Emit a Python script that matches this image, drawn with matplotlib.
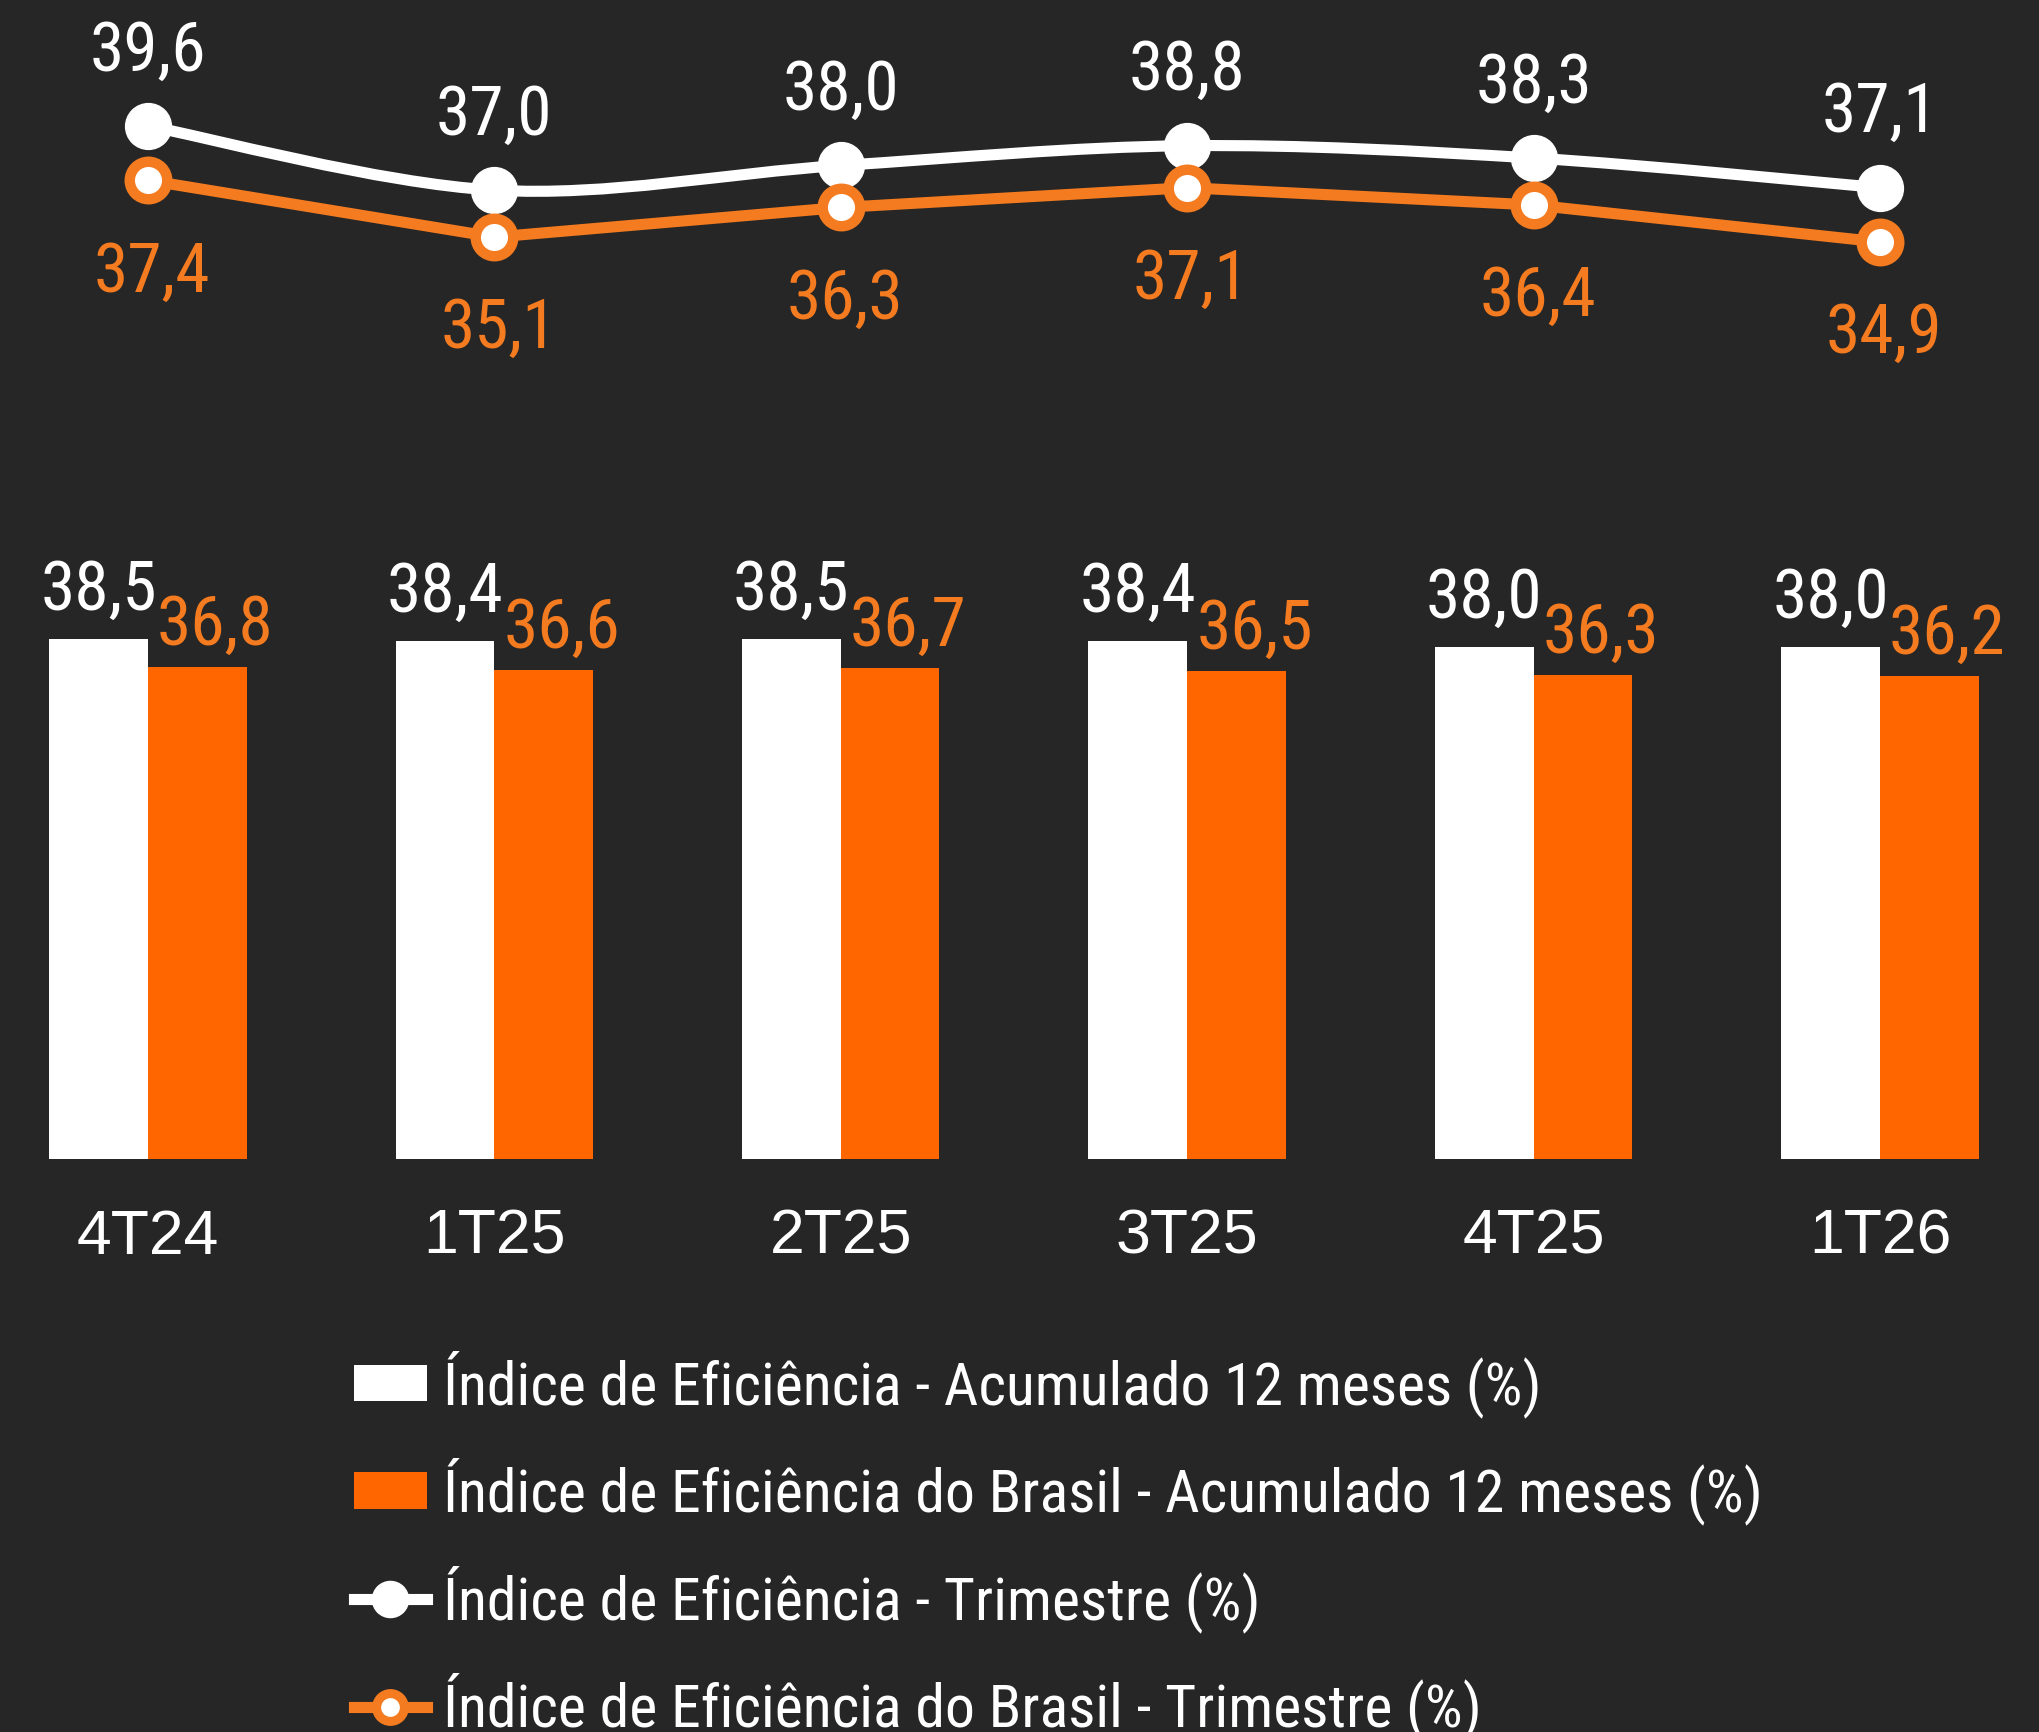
import matplotlib.pyplot as plt
from matplotlib import font_manager
from matplotlib.patches import Patch, PathPatch
from matplotlib.lines import Line2D
from matplotlib.path import Path

# quarters and series (%)
quarters = ["4T24", "1T25", "2T25", "3T25", "4T25", "1T26"]
acum_12m = [38.5, 38.4, 38.5, 38.4, 38.0, 38.0]
acum_12m_brasil = [36.8, 36.6, 36.7, 36.5, 36.3, 36.2]
trimestre = [39.6, 37.0, 38.0, 38.8, 38.3, 37.1]
trimestre_brasil = [37.4, 35.1, 36.3, 37.1, 36.4, 34.9]

BG = "#262626"
WHITE = "#ffffff"
ORANGE_BAR = "#ff6600"
ORANGE_LINE = "#f47b20"

# prefer a condensed face for the labels if one is around
installed = {f.name for f in font_manager.fontManager.ttflist}
condensed = [n for n in ("Roboto Condensed", "Liberation Sans Narrow", "Open Sans Condensed")
             if n in installed]
NARROW = condensed[:1] + ["Liberation Sans", "DejaVu Sans"]
REGULAR = ["Liberation Sans", "DejaVu Sans"]
shrink = 1.0 if condensed else 0.85


def fmt(v):
    return f"{v:.1f}".replace(".", ",")


x = list(range(len(quarters)))
xlim = (-0.427, 5.459)
w = 0.285

fig = plt.figure(figsize=(20.39, 17.32), dpi=100, facecolor=BG)

# --- bars: 12-month accumulated ---
ax = fig.add_axes([0, 0.3308, 1, 0.3459])
ax.set_facecolor(BG)
ax.bar([i - w / 2 for i in x], acum_12m, width=w, color=WHITE)
ax.bar([i + w / 2 for i in x], acum_12m_brasil, width=w, color=ORANGE_BAR)
ax.set_xlim(*xlim)
ax.set_ylim(6.5, 43.36)
for i in x:
    ax.annotate(fmt(acum_12m[i]), (i - w / 2, acum_12m[i]),
                xytext=(0, 21), textcoords="offset points", ha="center", va="baseline",
                color=WHITE, fontsize=50 * shrink, family=NARROW)
    ax.annotate(fmt(acum_12m_brasil[i]), (i + w / 2, acum_12m_brasil[i]),
                xytext=(13, 16), textcoords="offset points", ha="center", va="baseline",
                color=ORANGE_LINE, fontsize=50 * shrink, family=NARROW)
ax.set_xticks(x)
ax.set_xticklabels(quarters, color=WHITE, fontsize=45, family=REGULAR)
ax.tick_params(axis="x", length=0, pad=35)
ax.set_yticks([])
for s in ax.spines.values():
    s.set_visible(False)

# --- lines: quarterly ---
lx = fig.add_axes([0, 0.769, 1, 0.231])
lx.set_facecolor("none")
lx.set_xlim(*xlim)
lx.set_ylim(28.5, 44.7)
lx.axis("off")

# white series drawn as a smoothed curve (Catmull-Rom -> Bezier)
pts = list(zip(x, trimestre))
verts = [pts[0]]
codes = [Path.MOVETO]
for k in range(len(pts) - 1):
    p0 = pts[k - 1] if k > 0 else pts[k]
    p1, p2 = pts[k], pts[k + 1]
    p3 = pts[k + 2] if k + 2 < len(pts) else pts[k + 1]
    c1 = (p1[0] + (p2[0] - p0[0]) / 6, p1[1] + (p2[1] - p0[1]) / 6)
    c2 = (p2[0] - (p3[0] - p1[0]) / 6, p2[1] - (p3[1] - p1[1]) / 6)
    verts += [c1, c2, p2]
    codes += [Path.CURVE4] * 3
lx.add_patch(PathPatch(Path(verts, codes), facecolor="none", edgecolor=WHITE,
                       lw=8, capstyle="round", zorder=2))
lx.plot(x, trimestre, ls="none", marker="o", ms=33, color=WHITE, zorder=3)
lx.plot(x, trimestre_brasil, color=ORANGE_LINE, lw=8, marker="o", ms=27,
        mfc=WHITE, mec=ORANGE_LINE, mew=7.5, zorder=3)

for i in x:
    lx.annotate(fmt(trimestre[i]), (i, trimestre[i]),
                xytext=(0, 40), textcoords="offset points", ha="center", va="baseline",
                color=WHITE, fontsize=50 * shrink, family=NARROW)
    lx.annotate(fmt(trimestre_brasil[i]), (i, trimestre_brasil[i]),
                xytext=(3, -80), textcoords="offset points", ha="center", va="baseline",
                color=ORANGE_LINE, fontsize=50 * shrink, family=NARROW)

# --- legend ---
handles = [
    Patch(facecolor=WHITE),
    Patch(facecolor=ORANGE_BAR),
    Line2D([], [], color=WHITE, lw=8, marker="o", ms=26),
    Line2D([], [], color=ORANGE_LINE, lw=8, marker="o", ms=20, mfc=WHITE,
           mec=ORANGE_LINE, mew=6.5),
]
labels = [
    "Índice de Eficiência - Acumulado 12 meses (%)",
    "Índice de Eficiência do Brasil - Acumulado 12 meses (%)",
    "Índice de Eficiência - Trimestre (%)",
    "Índice de Eficiência do Brasil - Trimestre (%)",
]
lsize = 43 * shrink
fig.legend(handles, labels, loc="upper left", bbox_to_anchor=(0.1736, 0.2205),
           frameon=False, prop={"family": NARROW, "size": lsize},
           labelcolor=WHITE, handlelength=52.6 / lsize, handleheight=24.5 / lsize,
           handletextpad=11.5 / lsize, labelspacing=(77 / lsize) - 1.125,
           borderpad=0, borderaxespad=0)

fig.savefig("out.png", dpi=100, facecolor=BG)
